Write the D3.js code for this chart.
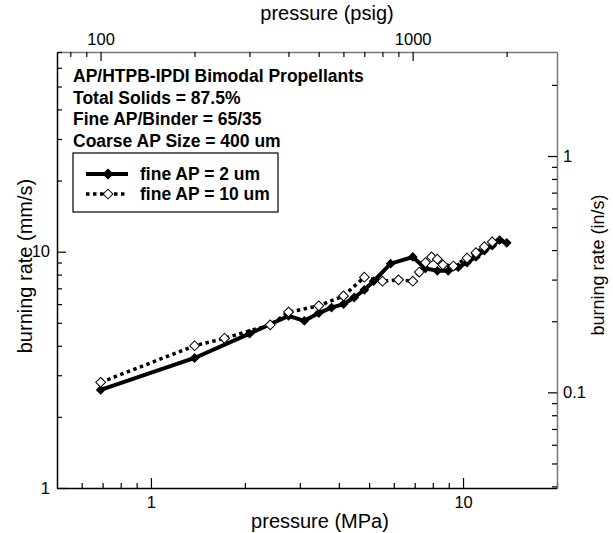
<!DOCTYPE html>
<html lang="en">
<head>
  <meta charset="UTF-8">
  <title>Burning rate vs pressure</title>
  <script src="https://d3js.org/d3.v7.min.js"></script>
  <style>
    body { margin: 0; background: #fff; }
    svg { display: block; font-family: "Liberation Sans", Arial, sans-serif; }
    .tick text { font-size: 16.5px; fill: #000; }
    .note { font-size: 17.5px; font-weight: bold; }
  </style>
</head>
<body>
<svg id="chart" width="613" height="533"></svg>
<script>
// fine AP = 2 um
const p2 = [0.69, 1.38, 2.07, 2.76, 3.10, 3.45, 3.79, 4.14, 4.48, 4.83, 5.17, 5.86, 6.90, 7.58, 8.27, 8.96, 9.65, 10.3, 11.0, 11.7, 12.4, 13.1, 13.8];
const r2 = [2.6, 3.55, 4.5, 5.35, 5.1, 5.5, 5.8, 6.0, 6.4, 6.9, 7.5, 8.9, 9.5, 8.5, 8.3, 8.3, 8.6, 9.0, 9.5, 10.1, 10.6, 11.2, 10.9];
// fine AP = 10 um
const p10 = [0.69, 1.38, 1.72, 2.41, 2.76, 3.45, 4.14, 4.83, 5.52, 6.21, 6.90, 7.24, 7.58, 7.93, 8.27, 8.62, 9.31, 10.3, 11.0, 11.7, 12.4];
const r10 = [2.8, 4.0, 4.3, 4.9, 5.55, 5.9, 6.5, 7.8, 7.5, 7.6, 7.5, 8.2, 9.0, 9.5, 9.3, 8.8, 8.7, 9.4, 9.9, 10.5, 11.0];

const noteLines = ["AP/HTPB-IPDI Bimodal Propellants", "Total Solids = 87.5%", "Fine AP/Binder = 65/35", "Coarse AP Size = 400 um"];
const legendNames = ["fine AP = 2 um", "fine AP = 10 um"];

const mpaTicks = [0.6, 0.7, 0.8, 0.9, 1, 2, 3, 4, 5, 6, 7, 8, 9, 10, 20];
const mpaLabels = [1, 10];
const psiTicks = [80, 90, 100, 200, 300, 400, 500, 600, 700, 800, 900, 1000, 2000];
const psiLabels = [100, 1000];
const mmTicks = [1, 2, 3, 4, 5, 6, 7, 8, 9, 10, 20, 30, 40, 50, 60, 70];
const mmLabels = [1, 10];
const inTicks = [0.04, 0.05, 0.06, 0.07, 0.08, 0.09, 0.1, 0.2, 0.3, 0.4, 0.5, 0.6, 0.7, 0.8, 0.9, 1, 2];
const inLabels = [0.1, 1];

const svg = d3.select("#chart");
const plotL = 57, plotR = 557, plotT = 52, plotB = 488;

const x = d3.scaleLog().domain([0.5, 20]).range([plotL, plotR]);
const xPsi = d3.scaleLog().domain([0.5 * 145.04, 20 * 145.04]).range([plotL, plotR]);
const y = d3.scaleLog().domain([1, 70]).range([plotB, plotT]);
const yIn = d3.scaleLog().domain([1 / 25.4, 70 / 25.4]).range([plotB, plotT]);

// axes: ticks point inward, labels only on the decades
function styleAxis(g, labels, color) {
  g.select(".domain").attr("stroke", color).attr("stroke-width", 1.5);
  g.selectAll(".tick line").attr("stroke", "#000").attr("stroke-width", 1.2);
  g.selectAll(".tick text").text(d => labels.includes(d) ? d : "");
}

svg.append("g")
  .attr("transform", `translate(0,${plotB})`)
  .call(d3.axisBottom(x).tickValues(mpaTicks).tickSizeOuter(0).tickPadding(8)
    .tickSizeInner(-5).tickFormat(d => d))
  .call(g => styleAxis(g, mpaLabels, "#000"))
  .call(g => g.selectAll(".tick line").attr("y2", d => mpaLabels.includes(d) ? -10 : -5));

svg.append("g")
  .attr("transform", `translate(0,${plotT})`)
  .call(d3.axisTop(xPsi).tickValues(psiTicks).tickSizeOuter(0).tickPadding(7)
    .tickSizeInner(-5).tickFormat(d => d))
  .call(g => styleAxis(g, psiLabels, "#777"))
  .call(g => g.selectAll(".tick line").attr("y2", d => psiLabels.includes(d) ? 9 : 5));

svg.append("g")
  .attr("transform", `translate(${plotL},0)`)
  .call(d3.axisLeft(y).tickValues(mmTicks).tickSizeOuter(0).tickPadding(7)
    .tickSizeInner(-5).tickFormat(d => d))
  .call(g => styleAxis(g, mmLabels, "#000"))
  .call(g => g.selectAll(".tick line").attr("x2", d => mmLabels.includes(d) ? 9 : 5));

svg.append("g")
  .attr("transform", `translate(${plotR},0)`)
  .call(d3.axisRight(yIn).tickValues(inTicks).tickSizeOuter(0).tickPadding(6)
    .tickSizeInner(-5).tickFormat(d => d))
  .call(g => styleAxis(g, inLabels, "#777"))
  .call(g => g.selectAll(".tick line").attr("x2", d => inLabels.includes(d) ? -9 : -5));

// axis titles
svg.append("text").attr("x", 320).attr("y", 528).attr("text-anchor", "middle")
  .attr("font-size", 20).text("pressure (MPa)");
svg.append("text").attr("x", 327).attr("y", 20).attr("text-anchor", "middle")
  .attr("font-size", 20).text("pressure (psig)");
svg.append("text").attr("transform", "translate(32,266) rotate(-90)").attr("text-anchor", "middle")
  .attr("font-size", 20).text("burning rate (mm/s)");
svg.append("text").attr("transform", "translate(604,265) rotate(-90)").attr("text-anchor", "middle")
  .attr("font-size", 18).text("burning rate (in/s)");

// notes
svg.selectAll("text.note").data(noteLines).join("text")
  .attr("class", "note").attr("x", 73).attr("y", (d, i) => 82 + i * 21.5).text(d => d);

const diamond = d3.symbol().type(d3.symbolSquare).size(48);
const line = d3.line().x(d => x(d[0])).y(d => y(d[1]));

const s2 = d3.zip(p2, r2);
const s10 = d3.zip(p10, r10);

svg.append("path").datum(s10).attr("d", line).attr("fill", "none")
  .attr("stroke", "#000").attr("stroke-width", 3.5).attr("stroke-dasharray", "3.5,3.5");
svg.append("path").datum(s2).attr("d", line).attr("fill", "none")
  .attr("stroke", "#000").attr("stroke-width", 4);

svg.append("g").selectAll("path").data(s2).join("path")
  .attr("d", diamond).attr("fill", "#000")
  .attr("transform", d => `translate(${x(d[0])},${y(d[1])}) rotate(45)`);
svg.append("g").selectAll("path").data(s10).join("path")
  .attr("d", diamond).attr("fill", "#fff").attr("stroke", "#000").attr("stroke-width", 1)
  .attr("transform", d => `translate(${x(d[0])},${y(d[1])}) rotate(45)`);

// legend
const lg = svg.append("g");
lg.append("rect").attr("x", 73).attr("y", 153).attr("width", 205).attr("height", 59)
  .attr("fill", "#fff").attr("stroke", "#000").attr("stroke-width", 1.2);
legendNames.forEach((name, i) => {
  const ly = 174 + i * 20;
  lg.append("line").attr("x1", 86).attr("x2", 128).attr("y1", ly).attr("y2", ly)
    .attr("stroke", "#000").attr("stroke-width", i ? 3.5 : 4)
    .attr("stroke-dasharray", i ? "3.5,3.5" : null);
  lg.append("path").attr("d", diamond)
    .attr("fill", i ? "#fff" : "#000").attr("stroke", "#000").attr("stroke-width", 1)
    .attr("transform", `translate(108,${ly}) rotate(45)`);
  lg.append("text").attr("class", "note").attr("x", 140).attr("y", ly + 6).text(name);
});
</script>
</body>
</html>
